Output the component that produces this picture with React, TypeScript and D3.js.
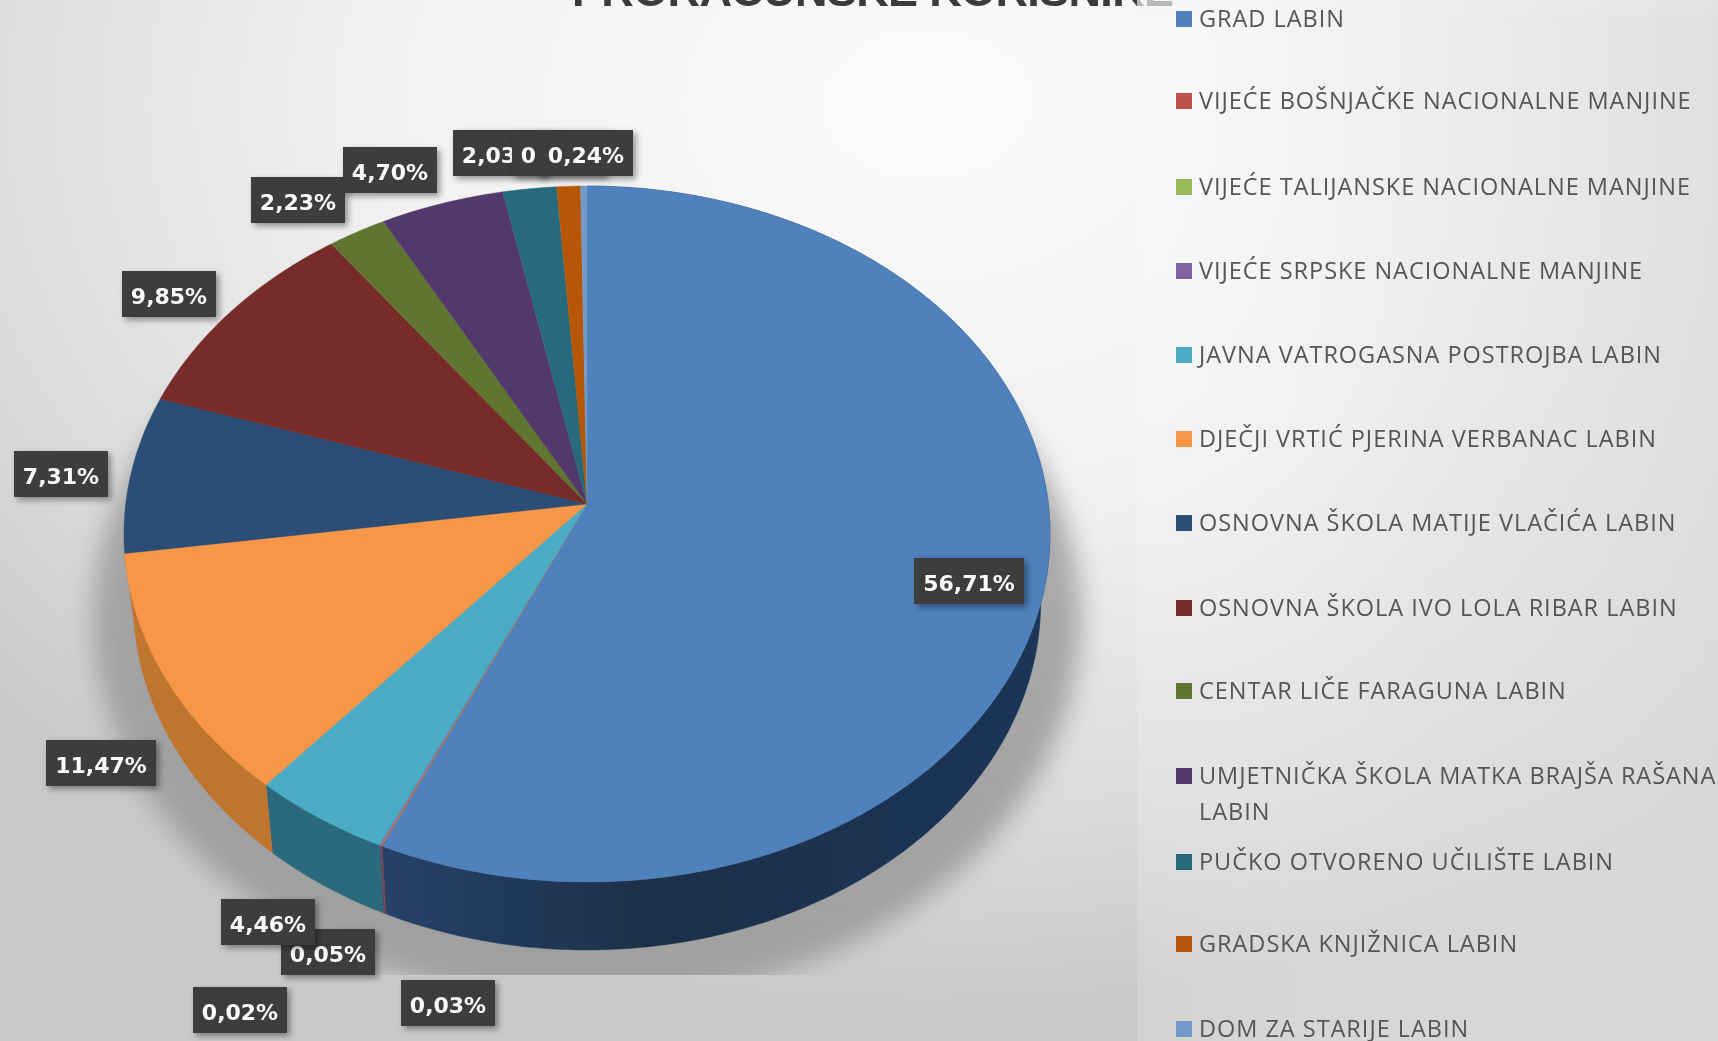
import React from "react";
import * as d3 from "d3";

const categories = ["GRAD LABIN","VIJEĆE BOŠNJAČKE NACIONALNE MANJINE","VIJEĆE TALIJANSKE NACIONALNE MANJINE","VIJEĆE SRPSKE NACIONALNE MANJINE","JAVNA VATROGASNA POSTROJBA LABIN","DJEČJI VRTIĆ PJERINA VERBANAC LABIN","OSNOVNA ŠKOLA MATIJE VLAČIĆA LABIN","OSNOVNA ŠKOLA IVO LOLA RIBAR LABIN","CENTAR LIČE FARAGUNA LABIN","UMJETNIČKA ŠKOLA MATKA BRAJŠA RAŠANA LABIN","PUČKO OTVORENO UČILIŠTE LABIN","GRADSKA KNJIŽNICA LABIN","DOM ZA STARIJE LABIN"];
const values = [56.71,0.03,0.02,0.05,4.46,11.47,7.31,9.85,2.23,4.70,2.03,0.90,0.24];
const colors = ["#4f81bd","#c0504d","#9bbb59","#8064a2","#4bacc6","#f79646","#2c4d75","#772c2a","#5f7530","#53396b","#276a7c","#b65708","#729aca"];
const wallColors = ["url(#blueWall)","#7a3040","#5a6a40","#5a4070","#2a6a7c","#c0752f"];
const title = "PRORAČUNSKE KORISNIKE";

// label box [left, top, width] per series
const labelBoxes = [[914,558,110],[401,980,94],[193,987,94],[281,929,94],[221,899,94],[46,740,110],[14,451,94],[122,271,94],[251,177,94],[343,147,94],[453,130,94],[512,130,94],[536.5,130,96.5]];
const legendRowY = [18,100,186,270,354,438,522,607,690,775,861,943,1028];

const W = 1718, H = 1041;
const cx = 587, cy = 504, k = -0.0862, sy = 345.4, sx = 461.3, depth = 68, taper = 0.98;

function project(a: number, r = 1): [number, number] {
  const u = r * Math.sin(a), v = -r * Math.cos(a), w = 1 + k * v;
  return [cx + (sx * u) / w, cy + (sy * v) / w];
}
const line = d3.line();
const pie = d3.pie<number>().sort(null).value((d) => d);
const arcs = pie(values);
const fmt = (v: number) => v.toFixed(2).replace(".", ",") + "%";

function rim(s: number, e: number): [number, number][] {
  const n = Math.max(2, Math.ceil((e - s) / 0.01));
  return d3.range(n + 1).map((i) => project(s + ((e - s) * i) / n));
}

export default function App() {
  return (
    <svg width={W} height={H} viewBox={`0 0 ${W} ${H}`} style={{ position: "fixed", left: 0, top: 0, display: "block" }}>
      <defs>
        <radialGradient id="bg" cx="0.54" cy="0.1" r="0.72" gradientTransform="translate(0.54 0.1) scale(1 1.2) translate(-0.54 -0.1)">
          <stop offset="0" stopColor="#fbfbfb" />
          <stop offset="0.45" stopColor="#f1f1f1" />
          <stop offset="0.8" stopColor="#dadada" />
          <stop offset="1" stopColor="#c9c9c9" />
        </radialGradient>
        <linearGradient id="panel" x1="0" y1="0" x2="1" y2="0">
          <stop offset="0" stopColor="#fff" stopOpacity="0.16" />
          <stop offset="0.5" stopColor="#e8e8e8" stopOpacity="0.45" />
          <stop offset="1" stopColor="#dedede" stopOpacity="0.7" />
        </linearGradient>
        <linearGradient id="blueWall" gradientUnits="userSpaceOnUse" x1="380" y1="0" x2="1050" y2="0">
          <stop offset="0" stopColor="#26426a" />
          <stop offset="0.4" stopColor="#1c3049" />
          <stop offset="1" stopColor="#1b3558" />
        </linearGradient>
        <linearGradient id="shadowFade" x1="0" y1="0" x2="0" y2="1">
          <stop offset="0" stopColor="#8f8f8f" stopOpacity="0" />
          <stop offset="0.3" stopColor="#8f8f8f" stopOpacity="0.7" />
          <stop offset="1" stopColor="#999" stopOpacity="0.85" />
        </linearGradient>
        <filter id="blur" x="-10%" y="-10%" width="120%" height="120%"><feGaussianBlur stdDeviation="13" /></filter>
        <filter id="boxShadow" x="-20%" y="-20%" width="150%" height="150%">
          <feDropShadow dx="3" dy="3" stdDeviation="3" floodColor="#000" floodOpacity="0.4" />
        </filter>
        <clipPath id="shadowClip"><rect x="0" y="380" width={W} height="595" /></clipPath>
        <filter id="soft" x="-5%" y="-5%" width="110%" height="110%"><feGaussianBlur stdDeviation="0.6" /></filter>
      </defs>
      <rect width={W} height={H} fill="url(#bg)" />
      <text x={873} y={6} textAnchor="middle" fontFamily="'Liberation Sans', sans-serif" fontWeight="700" fontSize="45" fill="#3a3a3a" textLength={602} filter="url(#soft)">{title}</text>
      <rect x={1137} y={0} width={W - 1137} height={14} fill="#f4f4f4" fillOpacity={0.6} />
      <rect x={1137} y={0} width={W - 1137} height={H} fill="url(#panel)" />

      <g clipPath="url(#shadowClip)">
        <ellipse cx={587} cy={618} rx={494} ry={385} fill="url(#shadowFade)" filter="url(#blur)" />
      </g>

      {arcs.slice(0, wallColors.length).map((a, i) => {
        const top = rim(a.startAngle, a.endAngle);
        const bottom = top.map(([x, y]) => [cx + (x - cx) * taper, y + depth] as [number, number]).reverse();
        return <path key={i} d={line([...top, ...bottom]) + "Z"} fill={wallColors[i]} stroke={wallColors[i]} strokeWidth={0.4} />;
      })}
      {arcs.map((a, i) => (
        <path key={i} d={line([[cx, cy], ...rim(a.startAngle, a.endAngle)]) + "Z"} fill={colors[i]} stroke={colors[i]} strokeWidth={0.4} />
      ))}

      {arcs.map((a, i) => {
        const [l, t, w] = labelBoxes[i];
        const label = fmt(values[i]);
        const half = label.length > 5 ? 55 : 47;
        return (
          <g key={i}>
            <rect x={l} y={t} width={w} height={46} fill="#3d3d3d" filter="url(#boxShadow)" />
            <text x={l + w - half} y={t + 33} textAnchor="middle" fontFamily="'DejaVu Sans', sans-serif" fontWeight="700" fontSize="22" fill="#fafafa">{label}</text>
          </g>
        );
      })}

      {categories.map((c, i) => {
        const y = legendRowY[i];
        const wrap = i === 9;
        return (
          <g key={i} fontFamily="'Open Sans', sans-serif" fontSize="23.5" fill="#555" letterSpacing="0.97">
            <rect x={1176} y={y - 7} width={16} height={16} fill={colors[i]} />
            {wrap ? (
              <>
                <text x={1199} y={y + 9}>UMJETNIČKA ŠKOLA MATKA BRAJŠA RAŠANA</text>
                <text x={1199} y={y + 45}>LABIN</text>
              </>
            ) : (
              <text x={1199} y={y + 9}>{c}</text>
            )}
          </g>
        );
      })}
    </svg>
  );
}
